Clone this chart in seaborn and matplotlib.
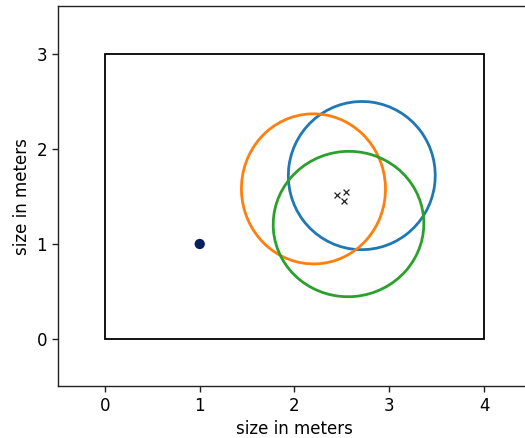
import numpy as np
import pandas as pd
import matplotlib
matplotlib.use("Agg")
import matplotlib.pyplot as plt
from matplotlib.patches import Rectangle, Ellipse
import seaborn as sns

# room outline
room_w = 4
room_h = 3

# circles: center x, center y, width, height
circle_x = [2.71, 2.20, 2.57]
circle_y = [1.72, 1.58, 1.21]
circle_w = [1.55, 1.52, 1.59]
circle_h = [1.56, 1.58, 1.53]
circle_angle = [-8, 2, 5]
circle_colors = ["#1f77b4", "#ff7f0e", "#2ca02c"]

# estimated positions
est_x = [2.445, 2.544, 2.522]
est_y = [1.516, 1.550, 1.453]

# anchor point
anchor_x = [1.0]
anchor_y = [1.0]

sns.set_style("white")
fig = plt.figure(figsize=(5.25, 4.38), dpi=100)
ax = fig.add_axes([0.1097, 0.1176, 0.9025, 0.8676])

ax.add_patch(Rectangle((0, 0), room_w, room_h, fill=False, edgecolor="black", linewidth=1.3))

for cx, cy, w, h, a, c in zip(circle_x, circle_y, circle_w, circle_h, circle_angle, circle_colors):
    ax.add_patch(Ellipse((cx, cy), w, h, angle=a, fill=False, edgecolor=c, linewidth=2))

sns.scatterplot(x=anchor_x, y=anchor_y, color="#0a1f5e", s=55, edgecolor="none", ax=ax)
sns.scatterplot(x=est_x, y=est_y, marker="x", color="#222222", s=18, linewidth=0.9, ax=ax)

ax.set_xlim(-0.5, 4.5)
ax.set_ylim(-0.5, 3.5)
ax.set_xticks([0, 1, 2, 3, 4])
ax.set_yticks([0, 1, 2, 3])
ax.tick_params(axis="both", which="both", length=4, width=1, color="#222222",
               labelcolor="black", labelsize=12, bottom=True, left=True)
ax.set_xlabel("size in meters", fontsize=12, color="black")
ax.set_ylabel("size in meters", fontsize=12, color="black")
for sp in ax.spines.values():
    sp.set_color("#222222")
    sp.set_linewidth(1)

fig.savefig("out.png", dpi=100)
